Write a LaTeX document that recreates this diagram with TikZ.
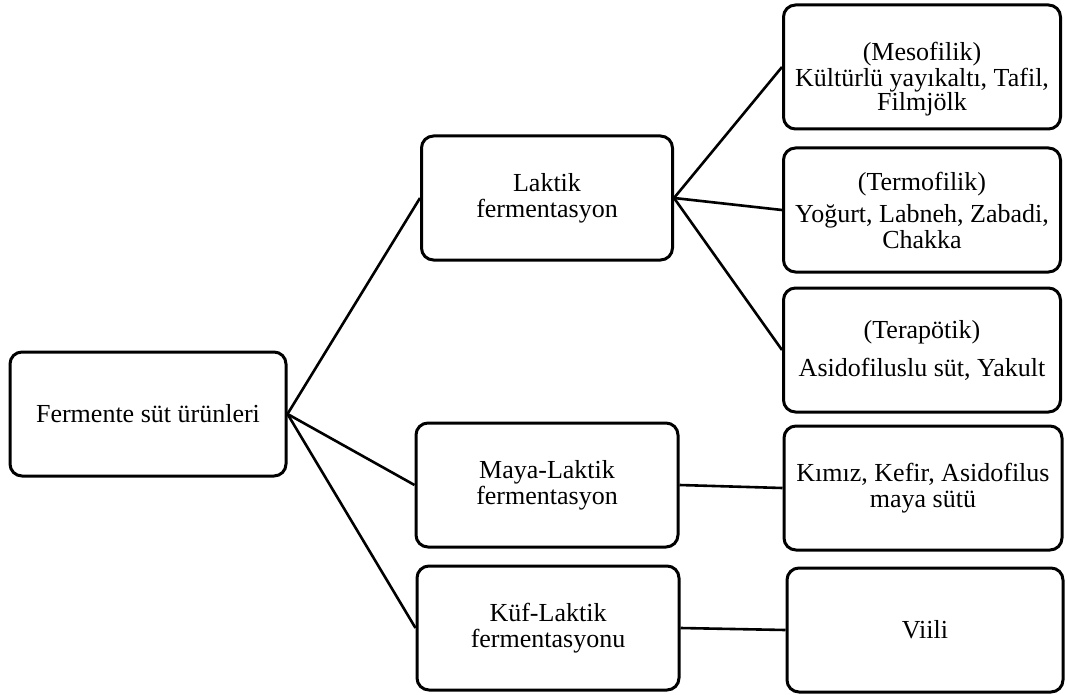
\documentclass[tikz,border=0pt]{standalone}
\usepackage{fontspec}
\setmainfont{Liberation Serif}
\usepackage{tikz}
\tikzset{kutu/.style={draw, line width=3pt, rounded corners=12pt, align=center, inner sep=0pt, minimum height=124pt, font=\fontsize{26}{26}\selectfont}}
\tikzset{kol/.style={line width=2.6pt}}
\newcommand{\kol}[2]{\draw[kol] (#1.east) -- (#2.west);}

\begin{document}
\begin{tikzpicture}[x=1pt, y=-1pt]
\useasboundingbox (0,0) rectangle (1067,695);
\node[kutu, minimum width=276pt] (urun) at (148,414) {Fermente süt ürünleri};
\node[kutu, minimum width=251pt] (laktik) at (547,198) {Laktik\\fermentasyon};
\node[kutu, minimum width=262pt] (maya) at (547,485) {Maya-Laktik\\fermentasyon};
\node[kutu, minimum width=262pt] (kuf) at (548,628) {Küf-Laktik\\fermentasyonu};
\node[kutu, minimum width=277pt] (meso) at (922,67) {\rule{0pt}{42pt}(Mesofilik)\\Kültürlü yayıkaltı, Tafil,\\[-2pt]Filmjölk};
\node[kutu, minimum width=277pt] (termo) at (922,210) {(Termofilik)\\[6pt]Yoğurt, Labneh, Zabadi,\\Chakka};
\node[kutu, minimum width=277pt] (tera) at (922,350) {(Terapötik)\\[12pt]Asidofiluslu süt, Yakult};
\node[kutu, minimum width=278pt] (kimiz) at (923,488) {Kımız, Kefir, Asidofilus\\maya sütü};
\node[kutu, minimum width=276pt] (viili) at (925,630) {Viili};
\kol{urun}{laktik}
\kol{urun}{maya}
\kol{urun}{kuf}
\kol{laktik}{meso}
\kol{laktik}{termo}
\kol{laktik}{tera}
\kol{maya}{kimiz}
\kol{kuf}{viili}
\end{tikzpicture}
\end{document}
